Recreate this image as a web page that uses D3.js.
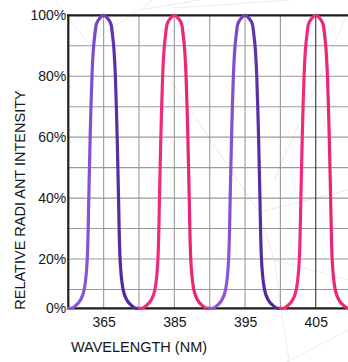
<!DOCTYPE html>
<html><head><meta charset="utf-8">
<script src="https://cdn.jsdelivr.net/npm/d3@7"></script>
<style>
body{margin:0;background:#fff}
svg{display:block}
text{font-family:"Liberation Sans",Arial,Helvetica,sans-serif;fill:#161616}
</style></head>
<body><svg id="c" width="348" height="362"></svg>
<script>
// ---- data ----
const tickLabels = ["365", "385", "395", "405"];
const tickPositions = [1, 3, 5, 7];           // grid-cell positions of the labelled peaks
const yTicks = [0, 20, 40, 60, 80, 100];
const yGrid = [10, 20, 30, 40, 50, 60, 70, 80, 90];
const xGrid = [1, 2, 3, 4, 5, 6, 7];
const peakCenters = [1, 3, 5, 7];
const peakColors = ["purple", "pink", "purple", "pink"];
// measured peak profile: offset from peak centre (grid cells) and relative intensity (%)
const profileOffset = [-1, -0.92, -0.79, -0.67, -0.55, -0.464, -0.438, -0.421, -0.402, -0.382, -0.359, -0.331, -0.283, -0.255, -0.21, -0.11, 0,
                       0.11, 0.21, 0.255, 0.283, 0.331, 0.359, 0.382, 0.402, 0.421, 0.438, 0.464, 0.55, 0.67, 0.79, 0.92, 1];
const profileIntensity = [0, 0, 1.5, 4, 10, 20, 30, 40, 50, 60, 70, 80, 90, 93, 97, 99, 100,
                          99, 97, 93, 90, 80, 70, 60, 50, 40, 30, 20, 10, 4, 1.5, 0, 0];

// ---- chart ----
const svg = d3.select("#c");
const x = d3.scaleLinear().domain([0, 8]).range([68.3, 351.1]);
const y = d3.scaleLinear().domain([0, 10, 100]).range([308.3, 289.5, 15.3]);

// decorative faint background mesh
const deco = [[55,0,88,43],[88,43,140,10],[140,10,152,0],[140,10,200,0],[174,8,291,0],
  [170,80,259,212],[259,212,348,190],[274,180,348,13],[259,212,274,260],[274,260,289,362],
  [274,260,348,280],[287,362,348,330]];
svg.append("g").selectAll("line").data(deco).join("line")
  .attr("x1", d => d[0]).attr("y1", d => d[1]).attr("x2", d => d[2]).attr("y2", d => d[3])
  .attr("stroke", "#ebebeb").attr("stroke-width", 1);

// gradients
const defs = svg.append("defs");
peakCenters.forEach((c, i) => {
  const g = defs.append("linearGradient").attr("id", "g" + i)
    .attr("gradientUnits", "userSpaceOnUse")
    .attr("x1", x(c - 0.5)).attr("x2", x(c + 0.5)).attr("y1", 0).attr("y2", 0);
  if (peakColors[i] === "purple") {
    g.append("stop").attr("offset", 0).attr("stop-color", "#8a55d8");
    g.append("stop").attr("offset", 1).attr("stop-color", "#4f2a9e");
  } else {
    g.append("stop").attr("offset", 0).attr("stop-color", "#f22a7d");
    g.append("stop").attr("offset", 1).attr("stop-color", "#ea2574");
  }
});

// grid
const grid = svg.append("g");
grid.selectAll("line.h").data(yGrid).join("line").attr("class", "h")
  .attr("x1", x(0)).attr("x2", 348).attr("y1", d => y(d)).attr("y2", d => y(d))
  .attr("stroke", "#999").attr("stroke-width", 1.1);
grid.selectAll("line.v").data(xGrid).join("line").attr("class", "v")
  .attr("x1", d => x(d)).attr("x2", d => x(d)).attr("y1", y(100)).attr("y2", y(0))
  .attr("stroke", d => d === 7 ? "#333" : "#999").attr("stroke-width", 1.1);

// axes
const yAxis = d3.axisLeft(y).tickValues(yTicks).tickFormat(d => d + "%").tickSize(0).tickPadding(2);
const ya = svg.append("g").attr("transform", `translate(${x(0)},0)`).call(yAxis);
ya.select(".domain").remove();
ya.selectAll("text").attr("font-size", 14).style("font-family", '"Liberation Sans",Arial,sans-serif').attr("fill", "#161616");

const xAxis = d3.axisBottom(x).tickValues(tickPositions).tickFormat((d, i) => tickLabels[i]).tickSize(0).tickPadding(9);
const xa = svg.append("g").attr("transform", `translate(0,${y(0)})`).call(xAxis);
xa.select(".domain").remove();
xa.selectAll("text").attr("font-size", 14).style("font-family", '"Liberation Sans",Arial,sans-serif').attr("fill", "#161616");

// frame lines
svg.append("line").attr("x1", x(0)).attr("x2", x(0)).attr("y1", y(100) - 1).attr("y2", y(0) + 1)
  .attr("stroke", "#1e1e1e").attr("stroke-width", 2.2);
svg.append("line").attr("x1", x(0) - 1).attr("x2", 348).attr("y1", y(100)).attr("y2", y(100))
  .attr("stroke", "#1e1e1e").attr("stroke-width", 2.2);
svg.append("line").attr("x1", x(0) - 1).attr("x2", 348).attr("y1", y(0)).attr("y2", y(0))
  .attr("stroke", "#1e1e1e").attr("stroke-width", 2.2);

// curves
const line = d3.line().x(d => x(d[0])).y(d => y(d[1])).curve(d3.curveMonotoneX);
peakCenters.forEach((c, i) => {
  const pts = profileOffset.map((o, k) => [c + o, profileIntensity[k]]);
  svg.append("path").attr("d", line(pts)).attr("fill", "none")
    .attr("stroke", `url(#g${i})`).attr("stroke-width", 3.2)
    .attr("stroke-linejoin", "round").attr("stroke-linecap", "round");
});

// titles
svg.append("text").attr("x", 139).attr("y", 352).attr("text-anchor", "middle")
  .attr("font-size", 14.5).text("WAVELENGTH (NM)");
svg.append("text").attr("transform", "translate(25,200) rotate(-90)").attr("text-anchor", "middle")
  .attr("font-size", 14.5).text("RELATIVE RADI ANT INTENSITY");
</script>
</body></html>
